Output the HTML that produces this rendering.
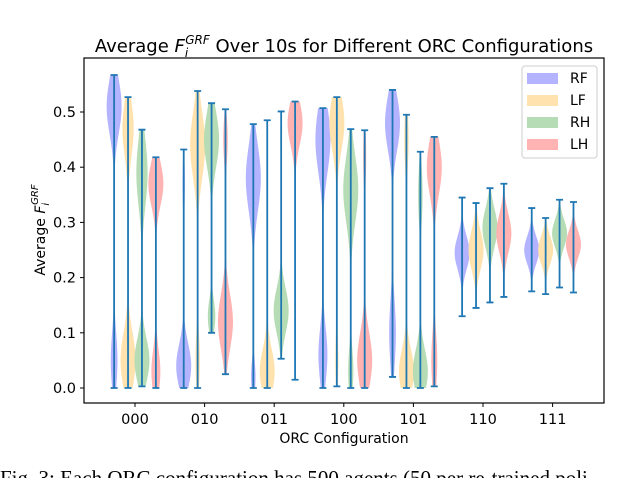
<!DOCTYPE html>
<html><head><meta charset="utf-8"><style>
html,body{margin:0;padding:0;background:#fff;width:640px;height:478px;overflow:hidden}
svg text{font-family:"DejaVu Sans","Liberation Sans",sans-serif}
svg text.cap{font-family:"Liberation Serif",serif}
</style></head><body>
<svg id="chart" width="640" height="478" viewBox="0 0 640 478" xmlns="http://www.w3.org/2000/svg">
<g id="violins"></g>
<rect x="84" y="58" width="520" height="345" fill="none" stroke="#000" stroke-width="1.2"/>
<g id="yticks"></g>
<g id="xticks"></g>
<text x="344" y="52" font-size="18" text-anchor="middle">Average <tspan font-style="italic">F</tspan><tspan font-style="italic" font-size="12" dy="5">i</tspan><tspan font-style="italic" font-size="12" dx="-3" dy="-13">GRF</tspan><tspan dy="8"> Over 10s for Different ORC Configurations</tspan></text>
<text transform="translate(45,230) rotate(-90)" font-size="14" text-anchor="middle">Average <tspan font-style="italic">F</tspan><tspan font-style="italic" font-size="10" dy="4">i</tspan><tspan font-style="italic" font-size="10" dx="-2" dy="-11">GRF</tspan></text>
<text x="344" y="443" font-size="14" text-anchor="middle">ORC Configuration</text>
<g id="legend">
<rect x="522" y="66" width="75" height="92" rx="3" fill="#fff" stroke="#ccc"/>
</g>
<text class="cap" x="0" y="485" font-size="21">Fig. 3: Each ORC configuration has 500 agents (50 per re-trained poli</text>
</svg>
<script>
const categories=["000","010","011","100","101","110","111"];
const seriesNames=["RF","LF","RH","LH"];
const seriesColors=["#b3b3ff","#ffe2ad","#b5dcb5","#ffb3b3"];
const yTicks=[0,0.1,0.2,0.3,0.4,0.5];
// [min,max] per category per series
const mins=[[0,0,0.003,0],[0,0,0.1,0.025],[0,0,0.053,0.015],[0,0.003,0,0],[0.02,0,0,0.003],[0.13,0.145,0.155,0.165],[0.175,0.17,0.182,0.173]];
const maxs=[[0.567,0.527,0.468,0.418],[0.432,0.538,0.516,0.505],[0.478,0.485,0.501,0.519],[0.507,0.527,0.469,0.467],[0.54,0.495,0.428,0.455],[0.345,0.335,0.362,0.37],[0.326,0.308,0.341,0.337]];
// density modes: [center, spread, weight]
const modes=[
 [[[0.51,0.05,1],[0.05,0.05,0.45]],[[0.47,0.05,0.6],[0.05,0.05,0.8]],[[0.39,0.06,0.6],[0.05,0.04,0.8]],[[0.37,0.04,1],[0.03,0.04,0.6]]],
 [[[0.04,0.04,1],[0.37,0.05,0.15]],[[0.44,0.06,1],[0.05,0.05,0.3]],[[0.45,0.05,1],[0.13,0.03,0.5]],[[0.12,0.05,1],[0.45,0.04,0.3]]],
 [[[0.38,0.06,1],[0.02,0.03,0.3]],[[0.03,0.04,1],[0.3,0.1,0.05]],[[0.14,0.04,1],[0.45,0.05,0.1]],[[0.48,0.04,1],[0.2,0.1,0.05]]],
 [[[0.45,0.06,1],[0.06,0.05,0.6]],[[0.48,0.05,1],[0.05,0.05,0.2]],[[0.36,0.06,1],[0.03,0.04,0.35]],[[0.05,0.05,1],[0.42,0.05,0.2]]],
 [[[0.48,0.05,1],[0.1,0.06,0.45]],[[0.03,0.04,1],[0.45,0.05,0.3]],[[0.03,0.04,1],[0.35,0.05,0.3]],[[0.4,0.05,1],[0.05,0.05,0.4]]],
 [[[0.245,0.03,1]],[[0.25,0.035,1]],[[0.29,0.035,1]],[[0.28,0.035,1]]],
 [[[0.25,0.025,1]],[[0.25,0.025,1]],[[0.28,0.025,1]],[[0.26,0.025,1]]]
];
const NS="http://www.w3.org/2000/svg";
const x0=135,dx=69.6,y0=388,py=552;
function xScale(i){return x0+i*dx;}
function yScale(v){return y0-v*py;}
function mk(tag,attrs,parent){const e=document.createElementNS(NS,tag);for(const k in attrs)e.setAttribute(k,attrs[k]);parent.appendChild(e);return e;}
const gV=document.getElementById('violins');
const halfW=7.5, blue="#1f77b4";
categories.forEach((c,i)=>{
 seriesNames.forEach((s,j)=>{
  const cx=xScale(i)+(j-1.5)*0.2*dx;
  const lo=mins[i][j],hi=maxs[i][j],m=modes[i][j];
  const N=60,pts=[];let mx=0;
  for(let k=0;k<=N;k++){const v=lo+(hi-lo)*k/N;let d=0;m.forEach(q=>{d+=q[2]*Math.exp(-0.5*((v-q[0])/q[1])**2);});pts.push([v,d]);if(d>mx)mx=d;}
  let dstr="";pts.forEach((p,k)=>{dstr+=(k?"L":"M")+(cx+p[1]/mx*halfW).toFixed(2)+","+yScale(p[0]).toFixed(2);});
  for(let k=pts.length-1;k>=0;k--){const p=pts[k];dstr+="L"+(cx-p[1]/mx*halfW).toFixed(2)+","+yScale(p[0]).toFixed(2);}
  const body=mk('path',{d:dstr+"Z",fill:seriesColors[j]},gV);
  
  
  const ln=mk('path',{d:`M${cx},${yScale(lo)}V${yScale(hi)}M${cx-3.5},${yScale(lo)}h7M${cx-3.5},${yScale(hi)}h7`,stroke:blue,"stroke-width":"1.8",fill:"none"},gV);
  
  
 });
});
const gY=document.getElementById('yticks');
yTicks.forEach(t=>{const y=yScale(t);mk('line',{x1:80,x2:84,y1:y,y2:y,stroke:"#000"},gY);const tx=mk('text',{x:76,y:y+5,"font-size":"14.5","text-anchor":"end"},gY);tx.textContent=t.toFixed(1);});
const gX=document.getElementById('xticks');
categories.forEach((c,i)=>{const x=xScale(i);mk('line',{x1:x,x2:x,y1:403,y2:407,stroke:"#000"},gX);const tx=mk('text',{x:x,y:424,"font-size":"14.5","text-anchor":"middle"},gX);tx.textContent=c;});
const gL=document.getElementById('legend');
seriesNames.forEach((s,j)=>{const y=78+j*22;const r=mk('rect',{x:527,y:y-5,width:31,height:11,fill:seriesColors[j]},gL);const t=mk('text',{x:570,y:y+5,"font-size":"14"},gL);t.textContent=s;});
</script>
</body></html>
